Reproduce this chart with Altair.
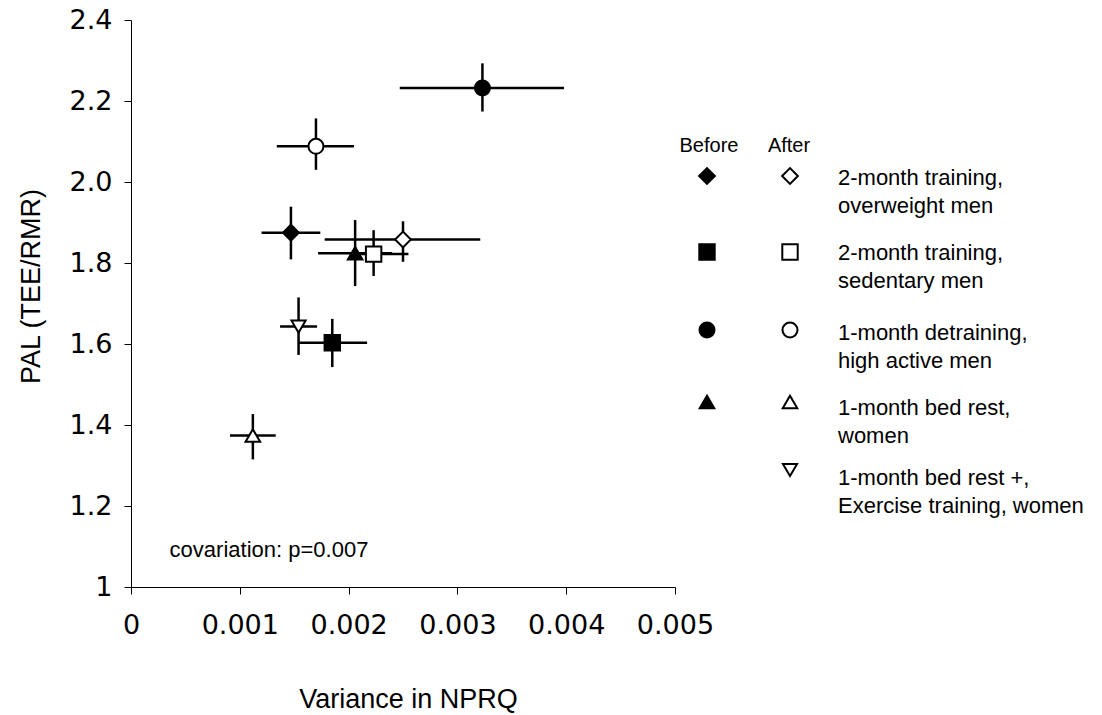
import altair as alt
import pandas as pd

# ---------------- data ----------------
groups = ["overweight", "sedentary", "detraining", "bedrest", "bedrest_ex"]
group_labels = [
    "2-month training,\noverweight men",
    "2-month training,\nsedentary men",
    "1-month detraining,\nhigh active men",
    "1-month bed rest,\nwomen",
    "1-month bed rest +,\nExercise training, women",
]
group_shapes = ["diamond", "square", "circle", "triangle-up", "triangle-down"]
group_sizes = [250, 200, 190, 250, 250]

point_group = ["overweight", "overweight", "sedentary", "sedentary",
               "detraining", "detraining", "bedrest", "bedrest", "bedrest_ex"]
point_phase = ["Before", "After", "Before", "After",
               "Before", "After", "Before", "After", "After"]
x_mean = [0.00147, 0.00250, 0.00185, 0.00223, 0.00323, 0.00170, 0.00206, 0.00112, 0.00154]
x_low = [0.00120, 0.00178, 0.00154, 0.00201, 0.00247, 0.00134, 0.00172, 0.00091, 0.00137]
x_high = [0.00174, 0.00321, 0.00217, 0.00255, 0.00398, 0.00205, 0.00240, 0.00133, 0.00171]
y_mean = [1.875, 1.858, 1.603, 1.822, 2.232, 2.088, 1.824, 1.374, 1.643]
y_low = [1.809, 1.803, 1.543, 1.768, 2.174, 2.030, 1.743, 1.315, 1.573]
y_high = [1.939, 1.903, 1.662, 1.881, 2.293, 2.157, 1.906, 1.427, 1.715]

x_ticks = [0, 0.001, 0.002, 0.003, 0.004, 0.005]
y_ticks = [1.0, 1.2, 1.4, 1.6, 1.8, 2.0, 2.2, 2.4]

annotation_text = ["covariation: p=0.007"]
annotation_x = [0.000355]
annotation_y = [1.074]

phases = ["Before", "After"]

# ---------------- layout constants (pixels) ----------------
W, H = 544, 567
PAD_L, PAD_T = 131, 20
LEG_X = {"Before": 707, "After": 790}
LEG_ROW_Y = [176, 252, 330, 402, 470]
LEG_TEXT_X = 838
LEG_TEXT_BASE = [185, 260, 340, 415, 485]
LEG_HEAD_Y = 152

df = pd.DataFrame({
    "group": point_group, "phase": point_phase,
    "x": x_mean, "xl": x_low, "xh": x_high,
    "y": y_mean, "yl": y_low, "yh": y_high,
})

# legend tables
leg_rows = []
for i, g in enumerate(groups):
    for ph in phases:
        if g == "bedrest_ex" and ph == "Before":
            continue
        leg_rows.append({"group": g, "phase": ph,
                         "lx": LEG_X[ph] - PAD_L, "ly": LEG_ROW_Y[i] - PAD_T})
leg_df = pd.DataFrame(leg_rows)
leg_text_df = pd.DataFrame({
    "label": group_labels,
    "lx": [LEG_TEXT_X - PAD_L] * len(groups),
    "ly": [b - PAD_T for b in LEG_TEXT_BASE],
})
head_df = pd.DataFrame({
    "label": phases,
    "lx": [LEG_X["Before"] + 2 - PAD_L, LEG_X["After"] - 1 - PAD_L],
    "ly": [LEG_HEAD_Y - PAD_T] * 2,
})
ann_df = pd.DataFrame({"label": annotation_text, "x": annotation_x, "y": annotation_y})

shape_scale = alt.Scale(domain=groups, range=group_shapes)
size_scale = alt.Scale(domain=groups, range=group_sizes)
fill_scale = alt.Scale(domain=phases, range=["black", "white"])

xs = alt.Scale(domain=[0, 0.005], nice=False, zero=False)
ys = alt.Scale(domain=[1, 2.4], nice=False, zero=False)

x_axis = alt.Axis(
    values=x_ticks, title="Variance in NPRQ",
    labelExpr="datum.value == 0 ? '0' : format(datum.value, '.3f')",
    labelPadding=18, tickSize=7, labelFontSize=27, labelFont="DejaVu Sans",
    titleX=277, titleY=120, titleBaseline="alphabetic", titleAlign="center",
    labelFlush=False, labelOverlap=False,
)
y_axis = alt.Axis(
    values=y_ticks, title="PAL (TEE/RMR)",
    labelExpr="datum.value == 1 ? '1' : format(datum.value, '.1f')",
    labelPadding=12, tickSize=7, labelFontSize=27, labelFont="DejaVu Sans",
    titleAngle=270, titleX=-100, titleY=266, titleBaseline="middle", titleAlign="center",
    labelFlush=False, labelOverlap=False,
)

base = alt.Chart(df)

xbars = base.mark_rule(color="black", strokeWidth=2.5).encode(
    x=alt.X("xl:Q", scale=xs, axis=x_axis), x2="xh:Q",
    y=alt.Y("y:Q", scale=ys, axis=y_axis),
)
ybars = base.mark_rule(color="black", strokeWidth=2.5).encode(
    x=alt.X("x:Q", scale=xs), y=alt.Y("yl:Q", scale=ys), y2="yh:Q",
)
points = base.mark_point(filled=True, stroke="black", strokeWidth=2, opacity=1).encode(
    x=alt.X("x:Q", scale=xs),
    y=alt.Y("y:Q", scale=ys),
    shape=alt.Shape("group:N", scale=shape_scale, legend=None),
    size=alt.Size("group:N", scale=size_scale, legend=None),
    fill=alt.Fill("phase:N", scale=fill_scale, legend=None),
)
ann = alt.Chart(ann_df).mark_text(
    align="left", baseline="alphabetic", fontSize=22, font="Liberation Sans", color="black"
).encode(x=alt.X("x:Q", scale=xs), y=alt.Y("y:Q", scale=ys), text="label:N")

main = alt.layer(xbars, ybars, points, ann)

leg_marks = alt.Chart(leg_df).mark_point(filled=True, stroke="black", strokeWidth=2, opacity=1).encode(
    x=alt.X("lx:Q", scale=None, axis=None),
    y=alt.Y("ly:Q", scale=None, axis=None),
    shape=alt.Shape("group:N", scale=shape_scale, legend=None),
    size=alt.Size("group:N", scale=size_scale, legend=None),
    fill=alt.Fill("phase:N", scale=fill_scale, legend=None),
)
leg_text = alt.Chart(leg_text_df).mark_text(
    align="left", baseline="alphabetic", fontSize=22, font="Liberation Sans",
    lineBreak="\n", lineHeight=28, color="black",
).encode(
    x=alt.X("lx:Q", scale=None, axis=None),
    y=alt.Y("ly:Q", scale=None, axis=None),
    text="label:N",
)
leg_head = alt.Chart(head_df).mark_text(
    align="center", baseline="alphabetic", fontSize=20, font="Liberation Sans", color="black",
).encode(
    x=alt.X("lx:Q", scale=None, axis=None),
    y=alt.Y("ly:Q", scale=None, axis=None),
    text="label:N",
)

chart = alt.layer(main, leg_marks, leg_text, leg_head).resolve_scale(
    x="independent", y="independent"
).properties(
    width=W, height=H,
    autosize=alt.AutoSizeParams(type="none"),
    padding={"left": PAD_L, "top": PAD_T, "right": 1102 - PAD_L - W, "bottom": 715 - PAD_T - H},
    background="white",
).configure_view(strokeWidth=0).configure_axis(
    grid=False, domainColor="black", domainWidth=1, tickColor="black", tickWidth=1,
    labelColor="black", titleColor="black", titleFont="Liberation Sans",
    titleFontSize=27, titleFontWeight="normal",
)

chart.save("out.html", embed_options={"renderer": "svg", "actions": False})
